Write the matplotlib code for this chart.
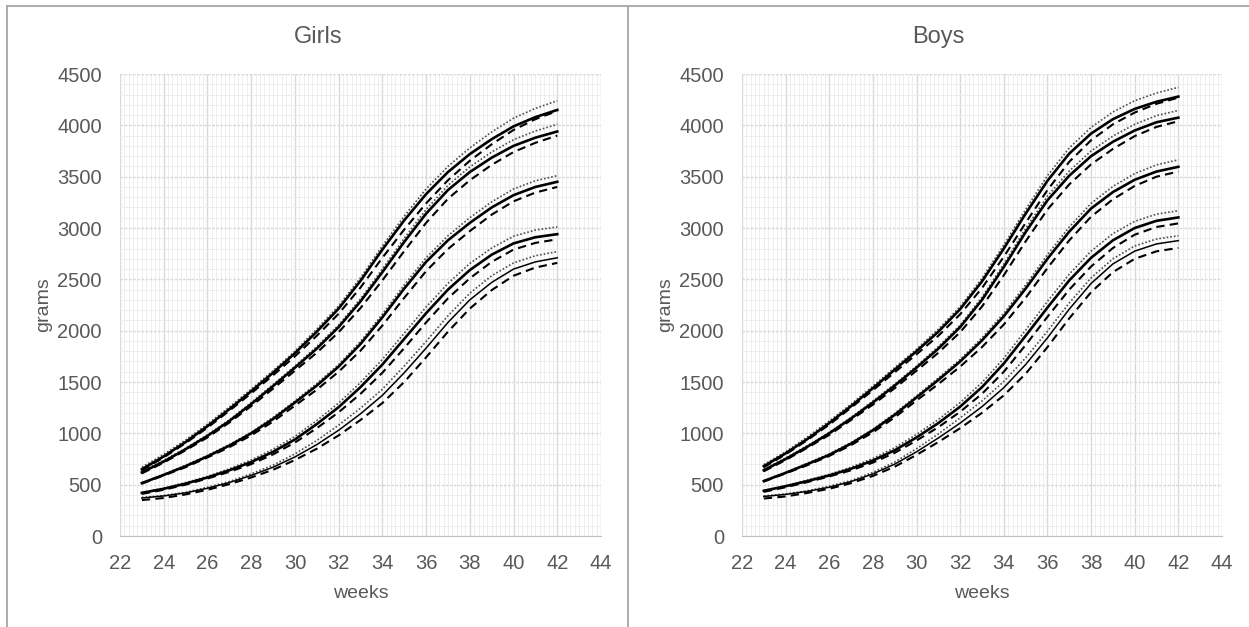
import numpy as np
import matplotlib
matplotlib.use("Agg")
import matplotlib.pyplot as plt
from matplotlib import font_manager
from matplotlib.lines import Line2D

###############################################################################
# data (grams by week of gestation)
weeks = [23, 24, 25, 26, 27, 28, 29, 30, 31, 32, 33, 34, 35, 36, 37, 38, 39, 40, 41, 42]

# girls - solid / dashed / dotted for each centile band
girls_p97 = [650, 775, 915, 1070, 1235, 1410, 1590, 1780, 1990, 2215, 2485, 2790, 3075, 3330, 3545, 3720, 3865, 3990, 4080, 4150]
girls_p97_dash = [640, 765, 905, 1055, 1220, 1390, 1565, 1750, 1950, 2165, 2420, 2710, 2985, 3240, 3465, 3655, 3815, 3955, 4060, 4140]
girls_p97_dot = [670, 795, 935, 1090, 1255, 1430, 1610, 1800, 2015, 2240, 2515, 2825, 3115, 3380, 3600, 3780, 3935, 4070, 4165, 4240]

girls_p90 = [620, 725, 845, 975, 1120, 1285, 1460, 1640, 1825, 2035, 2285, 2570, 2865, 3140, 3370, 3545, 3685, 3800, 3880, 3940]
girls_p90_dash = [610, 715, 835, 960, 1105, 1265, 1435, 1610, 1785, 1985, 2220, 2490, 2775, 3050, 3285, 3465, 3615, 3740, 3830, 3900]
girls_p90_dot = [630, 735, 855, 985, 1130, 1300, 1475, 1655, 1845, 2055, 2310, 2600, 2900, 3180, 3415, 3595, 3740, 3860, 3945, 4010]

girls_p50 = [515, 595, 680, 775, 880, 1000, 1140, 1300, 1465, 1650, 1870, 2130, 2410, 2670, 2880, 3050, 3200, 3320, 3400, 3450]
girls_p50_dash = [510, 590, 670, 765, 865, 980, 1115, 1270, 1425, 1600, 1805, 2050, 2320, 2580, 2795, 2970, 3130, 3260, 3345, 3400]
girls_p50_dot = [520, 600, 690, 785, 890, 1010, 1155, 1315, 1485, 1670, 1895, 2160, 2445, 2710, 2925, 3100, 3255, 3380, 3460, 3510]

girls_p10 = [420, 460, 510, 570, 640, 720, 820, 940, 1090, 1255, 1450, 1670, 1920, 2170, 2400, 2590, 2740, 2850, 2910, 2940]
girls_p10_dash = [410, 450, 500, 560, 625, 700, 795, 910, 1050, 1205, 1385, 1590, 1830, 2080, 2315, 2510, 2670, 2790, 2855, 2890]
girls_p10_dot = [425, 465, 520, 580, 655, 740, 845, 970, 1125, 1295, 1495, 1720, 1975, 2230, 2460, 2655, 2805, 2920, 2980, 3010]

girls_p3 = [370, 390, 420, 465, 520, 590, 670, 770, 890, 1030, 1190, 1370, 1590, 1830, 2080, 2300, 2470, 2600, 2670, 2710]
girls_p3_dash = [350, 370, 405, 450, 505, 570, 645, 740, 850, 980, 1130, 1295, 1500, 1740, 1990, 2215, 2395, 2535, 2615, 2660]
girls_p3_dot = [375, 395, 425, 475, 530, 605, 690, 800, 930, 1080, 1245, 1430, 1655, 1895, 2145, 2365, 2535, 2660, 2730, 2770]

# boys
boys_p97 = [680, 805, 945, 1100, 1265, 1440, 1620, 1800, 1990, 2210, 2480, 2800, 3140, 3460, 3725, 3920, 4060, 4160, 4230, 4280]
boys_p97_dash = [670, 795, 935, 1085, 1250, 1420, 1595, 1770, 1950, 2160, 2415, 2720, 3050, 3370, 3645, 3855, 4010, 4125, 4210, 4270]
boys_p97_dot = [695, 820, 965, 1120, 1285, 1460, 1640, 1820, 2015, 2235, 2510, 2835, 3180, 3510, 3780, 3980, 4130, 4240, 4315, 4370]

boys_p90 = [640, 750, 870, 1000, 1145, 1300, 1465, 1640, 1825, 2035, 2300, 2620, 2960, 3270, 3510, 3700, 3840, 3950, 4030, 4075]
boys_p90_dash = [630, 740, 860, 985, 1130, 1280, 1440, 1610, 1785, 1985, 2235, 2540, 2870, 3180, 3425, 3620, 3770, 3895, 3985, 4040]
boys_p90_dot = [650, 760, 880, 1010, 1155, 1315, 1480, 1655, 1845, 2055, 2325, 2650, 2995, 3310, 3555, 3750, 3895, 4010, 4095, 4145]

boys_p50 = [535, 615, 700, 790, 900, 1030, 1180, 1350, 1520, 1700, 1905, 2140, 2410, 2700, 2965, 3190, 3350, 3470, 3550, 3596]
boys_p50_dash = [530, 610, 690, 780, 885, 1010, 1155, 1320, 1480, 1650, 1840, 2060, 2320, 2610, 2880, 3110, 3280, 3410, 3500, 3550]
boys_p50_dot = [540, 620, 710, 800, 910, 1040, 1195, 1365, 1540, 1720, 1930, 2170, 2445, 2740, 3010, 3240, 3405, 3530, 3615, 3664]

boys_p10 = [440, 485, 535, 590, 655, 735, 835, 960, 1100, 1260, 1450, 1680, 1950, 2225, 2490, 2710, 2880, 3000, 3070, 3103]
boys_p10_dash = [430, 475, 525, 580, 640, 715, 810, 930, 1060, 1210, 1385, 1600, 1860, 2135, 2400, 2625, 2805, 2935, 3010, 3045]
boys_p10_dot = [445, 490, 545, 600, 670, 755, 860, 990, 1135, 1300, 1495, 1730, 2005, 2285, 2550, 2775, 2945, 3065, 3135, 3168]

boys_p3 = [385, 405, 435, 475, 530, 605, 700, 820, 955, 1100, 1260, 1445, 1670, 1930, 2210, 2460, 2650, 2775, 2845, 2877]
boys_p3_dash = [365, 385, 420, 460, 515, 585, 675, 790, 915, 1050, 1200, 1370, 1580, 1840, 2120, 2375, 2570, 2700, 2773, 2806]
boys_p3_dot = [390, 410, 440, 485, 540, 620, 720, 850, 995, 1150, 1315, 1505, 1735, 1995, 2270, 2515, 2700, 2825, 2893, 2925]

girls = [(girls_p97, girls_p97_dash, girls_p97_dot),
         (girls_p90, girls_p90_dash, girls_p90_dot),
         (girls_p50, girls_p50_dash, girls_p50_dot),
         (girls_p10, girls_p10_dash, girls_p10_dot),
         (girls_p3, girls_p3_dash, girls_p3_dot)]
boys = [(boys_p97, boys_p97_dash, boys_p97_dot),
        (boys_p90, boys_p90_dash, boys_p90_dot),
        (boys_p50, boys_p50_dash, boys_p50_dot),
        (boys_p10, boys_p10_dash, boys_p10_dot),
        (boys_p3, boys_p3_dash, boys_p3_dot)]

###############################################################################
# fonts / colours
names = {f.name for f in font_manager.fontManager.ttflist}
fam = 'Liberation Sans Narrow' if 'Liberation Sans Narrow' in names else 'Liberation Sans'
plt.rcParams['font.family'] = [fam, 'DejaVu Sans']
txt = '#595959'

W, H = 1249, 627
fig = plt.figure(figsize=(W / 100, H / 100), dpi=100)
fig.patch.set_facecolor('white')

# outer chart frames
frame = '#a6a6a6'
fig.add_artist(Line2D([7 / W, 1], [1 - 6 / H, 1 - 6 / H], color=frame, lw=1.3))
fig.add_artist(Line2D([7 / W, 7 / W], [0, 1 - 6 / H], color=frame, lw=1.3))
fig.add_artist(Line2D([628 / W, 628 / W], [0, 1 - 6 / H], color=frame, lw=1.3))


def panel(left_px, right_px, title, title_x, data):
    ax = fig.add_axes([left_px / W, 1 - 536 / H, (right_px - left_px) / W, (536 - 74) / H])
    ax.set_xlim(22, 44)
    ax.set_ylim(0, 4500)
    ax.set_xticks(np.arange(22, 45, 2))
    ax.set_yticks(np.arange(0, 4501, 500))
    ax.set_xticks(np.arange(22, 44.01, 0.2), minor=True)
    ax.set_yticks(np.arange(0, 4501, 100), minor=True)
    ax.grid(which='minor', color='#ebebeb', lw=0.6)
    ax.grid(which='major', axis='x', color='#d9d9d9', lw=1.0)
    ax.grid(which='major', axis='y', color='#d9d9d9', lw=1.0, linestyle=(0, (2, 1)))
    ax.set_axisbelow(True)
    for s in ['top', 'right', 'left']:
        ax.spines[s].set_visible(False)
    ax.spines['bottom'].set_color('#bfbfbf')
    ax.tick_params(which='both', length=0)
    ax.tick_params(axis='y', pad=13, labelsize=14.5, labelcolor=txt)
    ax.tick_params(axis='x', pad=13, labelsize=14.5, labelcolor=txt)

    for i, (solid, dash, dot) in enumerate(data):
        ax.plot(weeks, dot, color='#4d4d4d', lw=1.2, dashes=(1, 1.2), zorder=3)
        ax.plot(weeks, dash, color='black', lw=1.5, dashes=(4, 2.5), zorder=4)
        ax.plot(weeks, solid, color='black', lw=1.1 if i == 4 else 1.9, zorder=5)

    cx = (left_px + right_px) / 2
    fig.text(title_x / W, 1 - 37 / H, title, ha='center', va='center', fontsize=17, color=txt)
    fig.text(cx / W, 1 - 593 / H, 'weeks', ha='center', va='center', fontsize=14, color=txt)
    fig.text((left_px - 76) / W, 1 - 305 / H, 'grams', ha='center', va='center',
             rotation=90, fontsize=14, color=txt)
    return ax


panel(120, 601, 'Girls', 318, girls)
panel(742, 1222, 'Boys', 938, boys)

fig.savefig('out.png', dpi=100)
